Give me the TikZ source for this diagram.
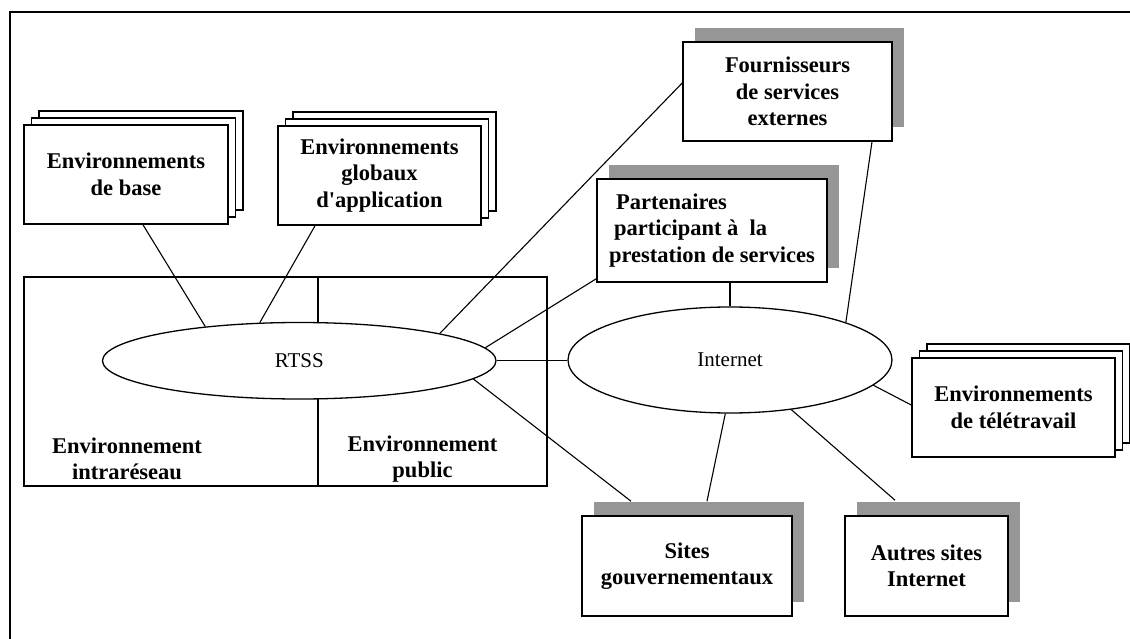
\documentclass[tikz,border=0pt]{standalone}
\usepackage{fontspec}
\setmainfont{Liberation Serif}
\usetikzlibrary{shapes.geometric,shadows}
\definecolor{shadowgray}{RGB}{150,150,150}
\begin{document}
\begin{tikzpicture}[x=1pt,y=-1pt,
  every node/.style={font=\fontsize{22.5}{26.5}\selectfont\bfseries, align=center},
  box/.style={draw, fill=white, line width=1.6pt, rectangle, inner sep=0pt},
  stackbox/.style={box, double copy shadow={shadow xshift=7.5pt, shadow yshift=7pt}},
  shadebox/.style={box, general shadow={fill=shadowgray, draw=none, shadow xshift=12pt, shadow yshift=14pt}},
  net/.style={draw, fill=white, ellipse, line width=1.3pt, inner sep=0pt,
    font=\fontsize{21}{24}\selectfont\mdseries},
  link/.style={line width=1.1pt}]
\useasboundingbox (0,0) rectangle (1130,639);

% outer frame (top and left edges)
\draw[line width=1.5pt] (1135,12) -- (10,12) -- (10,645);

% intranet / public area with its divider
\node[draw, line width=1.5pt, minimum width=523pt, minimum height=209pt, inner sep=0pt] (area) at (285.5,381.5) {};
\draw[line width=1.2pt] (318,277) -- (318,486);
\node at (127,459) {Environnement\\intraréseau};
\node at (422.5,459) {Environnement\\public};

% networks
\node[net, minimum width=393.5pt, minimum height=76.5pt] (rtss) at (299.25,360.75) {RTSS};
\node[net, minimum width=324pt, minimum height=106pt] (inet) at (730,360) {Internet};

% stacked environments
\node[stackbox, minimum width=204pt, minimum height=99pt] (base) at (126,174.5) {Environnements\\de base};
\node[stackbox, minimum width=203pt, minimum height=99pt] (glob) at (379.5,175.5) {Environnements\\globaux\\d\textquotesingle application};
\node[stackbox, minimum width=203pt, minimum height=99pt] (tele) at (1013.5,407.5) {Environnements\\de télétravail};

% external parties
\node[shadebox, minimum width=209pt, minimum height=99pt] (four) at (787.5,91.5) {Fournisseurs\\de services\\externes};
\node[shadebox, minimum width=230pt, minimum height=103pt, align=left] (part) at (712,230.5)
  {\hspace*{7pt}Partenaires\\\hspace*{5pt}participant à~~la\\prestation de services};
\node[shadebox, minimum width=210pt, minimum height=100pt] (gouv) at (687,566) {Sites\\gouvernementaux};
\node[shadebox, minimum width=163pt, minimum height=100pt] (autres) at (926.5,566) {Autres sites\\Internet};

% connections
\draw[link] ([xshift=17pt]base.south) -- (rtss.160);
\draw[link] ([xshift=-64.5pt]glob.south) -- (rtss.136);
\draw[link] (rtss.11) -- ([yshift=8.5pt]four.west);
\draw[link] (rtss.4.5) -- ([yshift=4pt]part.south west);
\draw[link] (rtss.east) -- (rtss.east -| inet.west);
\draw[link] (rtss.-6.6) -- ([xshift=-56pt,yshift=14pt]gouv.north);
\draw[link] ([xshift=18pt]part.south) -- (inet.north);
\draw[link] ([xshift=84.5pt]four.south) -- (inet.18);
\draw[link] (inet.-10.8) -- ([yshift=2.5pt]tele.west);
\draw[link] (inet.-95) -- ([xshift=20pt,yshift=14pt]gouv.north);
\draw[link] (inet.-39.4) -- ([xshift=-31.5pt,yshift=15pt]autres.north);
\end{tikzpicture}
\end{document}
